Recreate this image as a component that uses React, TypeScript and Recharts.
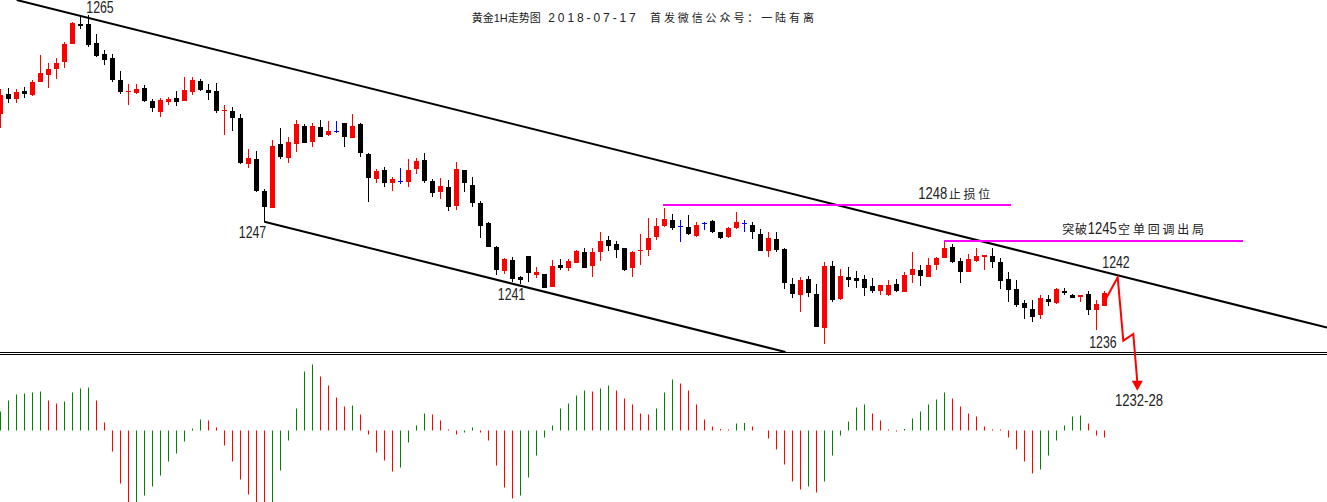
import React from "react";
import { ComposedChart, Bar, Line, Scatter, XAxis, YAxis } from "recharts";

// ---------- data ----------
const opens = [
  1258.6, 1260.6, 1260.1, 1260.9, 1260.5, 1261.8, 1262.5, 1263.1, 1263.8, 1265.6,
  1267.6, 1267.6, 1265.7, 1264.6, 1264.2, 1262.0, 1260.8, 1260.7, 1261.2, 1259.9,
  1258.8, 1259.8, 1260.2, 1259.9, 1260.8, 1261.9, 1261.0, 1260.9, 1258.9, 1258.9,
  1258.2, 1253.6, 1254.1, 1250.9, 1249.2, 1255.6, 1254.2, 1255.6, 1257.4, 1255.8,
  1257.3, 1256.5, 1256.9, 1257.7, 1256.2, 1257.6, 1254.6, 1252.1, 1253.0, 1251.7,
  1251.9, 1251.8, 1253.1, 1254.0, 1251.9, 1250.8, 1251.3, 1249.4, 1253.0, 1251.5,
  1249.7, 1247.7, 1245.3, 1242.9, 1244.0, 1242.3, 1244.4, 1242.5, 1242.6, 1241.3,
  1243.5, 1243.2, 1243.7, 1244.8, 1243.4, 1244.8, 1246.0, 1245.6, 1245.2, 1243.2,
  1244.9, 1245.0, 1246.3, 1247.4, 1248.0, 1247.4, 1247.3, 1246.4, 1247.7, 1247.9,
  1246.8, 1246.3, 1247.2, 1247.7, 1247.5, 1246.6, 1244.9, 1246.1, 1245.1, 1241.6,
  1240.5, 1242.1, 1240.6, 1237.2, 1243.4, 1240.1, 1242.3, 1242.2, 1242.1, 1241.4,
  1240.9, 1240.5, 1241.6, 1240.8, 1242.5, 1243.0, 1242.3, 1243.5, 1244.2, 1245.3,
  1243.9, 1242.8, 1243.9, 1244.3, 1244.4, 1243.8, 1242.1, 1241.1, 1239.7, 1239.1,
  1238.5, 1240.1, 1239.7, 1240.9, 1240.5, 1240.3, 1240.6, 1239.0, 1239.4,
];
const closes = [
  1260.5, 1260.1, 1260.8, 1260.6, 1261.8, 1262.7, 1263.1, 1263.7, 1265.6, 1267.7,
  1267.4, 1265.5, 1264.4, 1264.0, 1262.0, 1260.8, 1260.9, 1261.1, 1259.9, 1259.2,
  1260.0, 1260.1, 1259.8, 1261.0, 1262.0, 1261.0, 1260.7, 1258.9, 1259.0, 1258.2,
  1253.7, 1254.2, 1250.9, 1249.3, 1255.4, 1254.3, 1255.8, 1257.6, 1255.7, 1257.4,
  1256.3, 1256.9, 1256.9, 1256.3, 1257.4, 1254.7, 1252.2, 1252.9, 1251.7, 1252.1,
  1251.9, 1253.0, 1253.9, 1251.9, 1250.7, 1251.4, 1249.3, 1253.1, 1251.7, 1249.7,
  1247.4, 1245.3, 1243.0, 1244.1, 1242.1, 1242.0, 1242.7, 1242.8, 1241.2, 1243.4,
  1243.2, 1243.9, 1244.9, 1243.2, 1244.8, 1245.9, 1245.4, 1245.0, 1243.0, 1244.8,
  1245.0, 1246.2, 1247.4, 1248.1, 1247.2, 1247.4, 1246.6, 1247.5, 1247.7, 1246.8,
  1246.2, 1247.2, 1247.8, 1247.7, 1246.8, 1244.9, 1246.2, 1245.0, 1241.7, 1240.6,
  1242.0, 1240.7, 1237.3, 1243.4, 1240.0, 1242.4, 1242.0, 1241.9, 1241.2, 1240.9,
  1241.5, 1241.5, 1240.9, 1242.5, 1243.1, 1242.4, 1243.5, 1244.2, 1245.2, 1243.8,
  1242.8, 1244.1, 1244.4, 1244.5, 1243.8, 1241.9, 1241.0, 1239.5, 1239.2, 1238.3,
  1240.2, 1239.8, 1241.1, 1240.7, 1240.2, 1240.5, 1239.0, 1239.6, 1240.7,
];
const highs = [
  1261.1, 1261.2, 1261.1, 1261.3, 1262.0, 1264.5, 1263.7, 1264.2, 1265.8, 1267.8,
  1268.5, 1268.5, 1266.6, 1265.0, 1264.6, 1262.9, 1261.6, 1261.6, 1261.5, 1260.1,
  1260.2, 1260.3, 1260.9, 1262.3, 1262.3, 1262.1, 1261.6, 1261.7, 1259.5, 1259.3,
  1258.6, 1255.1, 1254.9, 1251.1, 1256.0, 1257.2, 1256.3, 1258.0, 1257.6, 1257.7,
  1258.0, 1257.9, 1257.9, 1257.7, 1258.6, 1257.7, 1254.7, 1253.1, 1253.3, 1252.3,
  1253.2, 1254.1, 1254.2, 1254.7, 1252.1, 1252.2, 1252.0, 1253.8, 1253.0, 1252.3,
  1249.9, 1247.8, 1245.4, 1244.2, 1244.3, 1242.4, 1244.4, 1243.3, 1242.6, 1244.0,
  1244.1, 1244.1, 1245.0, 1245.2, 1245.2, 1246.8, 1246.4, 1245.9, 1245.2, 1244.9,
  1246.6, 1248.2, 1248.2, 1249.2, 1248.6, 1248.0, 1248.5, 1247.8, 1247.8, 1248.0,
  1246.8, 1247.3, 1248.8, 1248.0, 1247.8, 1247.1, 1246.8, 1246.8, 1245.2, 1242.2,
  1242.3, 1242.4, 1241.6, 1243.8, 1243.9, 1243.1, 1243.3, 1242.9, 1242.5, 1242.2,
  1241.5, 1242.0, 1242.1, 1242.8, 1244.8, 1243.5, 1244.2, 1244.3, 1245.9, 1245.6,
  1244.2, 1244.6, 1245.2, 1244.5, 1245.2, 1244.2, 1242.8, 1242.0, 1240.0, 1240.0,
  1240.5, 1240.5, 1241.2, 1241.2, 1240.6, 1240.5, 1240.9, 1240.0, 1240.9,
];
const lows = [
  1257.2, 1259.7, 1259.7, 1260.2, 1260.4, 1261.8, 1261.2, 1262.1, 1263.2, 1265.6,
  1267.1, 1265.3, 1264.3, 1263.5, 1261.8, 1260.6, 1259.5, 1260.6, 1259.8, 1258.8,
  1258.3, 1259.5, 1259.4, 1259.9, 1260.5, 1260.9, 1260.0, 1258.7, 1256.5, 1256.9,
  1253.6, 1253.2, 1250.8, 1247.8, 1249.2, 1254.1, 1253.7, 1254.8, 1255.7, 1255.3,
  1256.3, 1256.4, 1256.7, 1255.3, 1256.2, 1254.3, 1249.8, 1251.7, 1251.3, 1250.9,
  1251.6, 1251.3, 1252.6, 1251.7, 1250.3, 1250.1, 1248.9, 1249.0, 1250.8, 1249.3,
  1246.2, 1245.3, 1242.5, 1242.6, 1241.8, 1241.6, 1241.8, 1242.2, 1241.2, 1241.3,
  1243.0, 1242.9, 1243.7, 1243.2, 1242.3, 1243.9, 1244.9, 1244.2, 1242.9, 1242.3,
  1243.5, 1244.4, 1246.0, 1247.3, 1247.0, 1245.8, 1246.5, 1246.3, 1247.0, 1246.7,
  1246.1, 1246.2, 1247.1, 1246.8, 1246.1, 1244.9, 1244.3, 1244.8, 1241.1, 1240.2,
  1238.8, 1240.3, 1237.3, 1235.6, 1239.8, 1240.0, 1241.3, 1241.2, 1240.4, 1240.7,
  1240.5, 1240.4, 1240.8, 1240.8, 1241.7, 1241.4, 1242.3, 1243.0, 1244.2, 1243.7,
  1241.7, 1242.8, 1243.8, 1243.0, 1243.2, 1241.1, 1239.8, 1239.3, 1238.1, 1237.8,
  1238.1, 1239.4, 1239.6, 1240.5, 1240.2, 1239.8, 1238.5, 1237.0, 1239.4,
];
const macd = [
  0.19, 0.30, 0.36, 0.37, 0.38, 0.39, 0.30, 0.27, 0.29, 0.38,
  0.42, 0.43, 0.30, 0.08, -0.21, -0.53, -0.74, -0.73, -0.65, -0.56,
  -0.45, -0.31, -0.23, -0.11, 0.02, 0.11, 0.10, 0.03, -0.15, -0.31,
  -0.49, -0.64, -0.72, -0.75, -0.73, -0.40, -0.10, 0.22, 0.59, 0.66,
  0.54, 0.45, 0.33, 0.24, 0.25, 0.16, -0.04, -0.22, -0.30, -0.41,
  -0.37, -0.12, 0.05, 0.17, 0.16, 0.10, 0.01, -0.04, -0.02, 0.03,
  -0.02, -0.10, -0.35, -0.57, -0.68, -0.65, -0.47, -0.25, -0.07, 0.05,
  0.22, 0.27, 0.35, 0.40, 0.39, 0.42, 0.45, 0.40, 0.32, 0.26,
  0.17, 0.16, 0.22, 0.38, 0.51, 0.47, 0.40, 0.26, 0.11, 0.04,
  0.015, 0.01, 0.07, 0.075, 0.04, 0, -0.08, -0.19, -0.34, -0.51,
  -0.59, -0.56, -0.62, -0.51, -0.25, -0.05, 0.09, 0.23, 0.26, 0.17,
  0.10, 0.01, -0.01, 0.015, 0.12, 0.19, 0.26, 0.31, 0.38, 0.32,
  0.24, 0.17, 0.14, 0.04, 0.012, 0.01, -0.07, -0.19, -0.31, -0.43,
  -0.39, -0.25, -0.10, 0.05, 0.14, 0.15, 0.07, -0.05, -0.07,
];

// annotation geometry in data units (x = bar index, y = price)
const upperTrend = [{ i: 2.025, p: 1270.0 }, { i: 165.81, p: 1237.24 }];
const lowerTrend = [{ i: 32.98, p: 1247.83 }, { i: 98.125, p: 1234.8 }];
const stopLine = [{ i: 82.81, p: 1249.5 }, { i: 126.31, p: 1249.5 }];
const exitLine = [{ i: 117.94, p: 1245.9 }, { i: 155.31, p: 1245.9 }];
const arrowPath = [
  { i: 137.975, p: 1239.83 },
  { i: 139.65, p: 1242.27 },
  { i: 140.35, p: 1235.93 },
  { i: 141.6, p: 1236.6 },
  { i: 142.1, p: 1231.8 },
];
const arrowTip = [{ i: 142.1, p: 1230.93 }];
const priceLabels = [
  { i: 12.44, p: 1269.28, text: "1265" },
  { i: 31.5, p: 1246.75, text: "1247" },
  { i: 63.875, p: 1240.6, text: "1241" },
  { i: 137.81, p: 1235.75, text: "1236" },
  { i: 139.44, p: 1243.75, text: "1242" },
  { i: 142.31, p: 1229.95, text: "1232-28" },
];
const noteLabels = [
  { i: 114.725, p: 1250.7, parts: ["1248", "止损位"] },
  { i: 132.725, p: 1247.17, parts: ["突破", "1245", "空单回调出局"] },
];
const titleParts = ["黄金", "1H", "走势图", "2018-07-17", "首发微信公众号：一陆有离"];

// ---------- chart ----------
const W = 1327;
const H = 502;
const X0 = -0.0625;
const X1 = X0 + W / 8;
const PRICE_DOMAIN: [number, number] = [1219.8, 1270];
const MACD_DOMAIN: [number, number] = [-0.715, 4.305];
const SEP1 = [{ i: X0, p: 1234.75 }, { i: X1, p: 1234.75 }];
const SEP2 = [{ i: X0, p: 1234.55 }, { i: X1, p: 1234.55 }];

const RED = "#ff0000";
const BLACK = "#000000";
const BLUE = "#0000ff";
const GREEN = "#008000";

const table = opens.map((o, i) => ({
  i,
  o,
  c: closes[i],
  h: highs[i],
  l: lows[i],
  m: macd[i],
  hc: i === 0 || macd[i] > macd[i - 1] ? GREEN : RED,
}));

const snap = (v: number) => Math.round(v - 0.5) + 0.5;

const CandleShape = (props: any) => {
  const { x, y, width, height, payload } = props;
  if (x == null || y == null || !payload) return null;
  const cx = snap(x + width / 2);
  const top = Math.min(y, y + height);
  const hh = Math.abs(height);
  const k = hh / (payload.h - payload.l);
  const yOf = (v: number) => Math.round(top + (payload.h - v) * k);
  const color = payload.c > payload.o ? RED : payload.c < payload.o ? BLACK : BLUE;
  const wt = yOf(payload.h);
  const wb = yOf(payload.l);
  const bt = yOf(Math.max(payload.o, payload.c));
  const bb = yOf(Math.min(payload.o, payload.c));
  return (
    <g>
      <rect x={cx - 0.5} y={wt} width={1} height={Math.max(1, wb - wt)} fill={color} />
      <rect x={cx - 2.5} y={bt} width={5} height={Math.max(1, bb - bt)} fill={color} />
    </g>
  );
};

const HistShape = (props: any) => {
  const { x, y, width, height, payload } = props;
  if (x == null || y == null || !payload || !height) return null;
  const cx = snap(x + width / 2);
  const top = Math.min(y, y + height);
  const hh = Math.abs(height);
  return <rect x={cx - 0.5} y={top} width={1} height={hh} fill={payload.hc} />;
};

const SANS = "'Liberation Sans',Arial,sans-serif";
const CJK = "'Noto Sans CJK SC','Noto Sans CJK JP',sans-serif";
const DIGIT_W = 7.23; // Liberation Sans digit advance at 13px
const DIGIT_STRETCH = 1.23; // tall, narrow digits as in the reference

const PriceLabel = (props: any) => {
  const { cx, cy, payload } = props;
  if (cx == null || !payload) return null;
  return (
    <text
      x={cx}
      y={cy + 5.7}
      textAnchor="middle"
      fontFamily={SANS}
      fontSize={16}
      fill="#222"
      textLength={payload.text.length * 6.85}
      lengthAdjust="spacingAndGlyphs"
    >
      {payload.text}
    </text>
  );
};

const NoteLabel = (props: any) => {
  const { cx, cy, payload } = props;
  if (cx == null || !payload) return null;
  const parts: string[] = payload.parts;
  const base = cy + 5.8;
  let x = cx;
  const items = parts.map((s, k) => {
    const x0 = x;
    if (/^\d+$/.test(s)) {
      x += s.length * DIGIT_W + 1.5;
      return (
        <text
          key={k}
          x={0}
          y={0}
          transform={`translate(${x0},${base}) scale(1,${DIGIT_STRETCH})`}
          fill="#222"
          fontFamily={SANS}
          fontSize={13}
        >
          {s}
        </text>
      );
    }
    const ls = k === parts.length - 1 ? 2.8 : 0.7;
    x += s.length * (12 + ls);
    return (
      <text key={k} x={x0} y={base} fill="#222" fontFamily={CJK} fontSize={12} letterSpacing={ls}>
        {s}
      </text>
    );
  });
  return <g>{items}</g>;
};

const ArrowHead = (props: any) => {
  const { cx, cy } = props;
  if (cx == null) return null;
  return <path d={`M${cx},${cy} L${cx - 5.5},${cy - 10} L${cx + 5.5},${cy - 10} Z`} fill={RED} />;
};

const lineProps = {
  dataKey: "p",
  xAxisId: 0,
  yAxisId: "p",
  dot: false,
  activeDot: false,
  isAnimationActive: false,
  type: "linear" as const,
  legendType: "none" as const,
};

export default function App() {
  return (
    <div style={{ position: "absolute", left: 0, top: 0, width: W, height: H, background: "#fff" }}>
      <ComposedChart width={W} height={H} data={table} margin={{ top: 0, right: 0, bottom: 0, left: 0 }}>
        <XAxis xAxisId={0} type="number" dataKey="i" domain={[X0, X1]} hide allowDataOverflow />
        <XAxis xAxisId="h" type="number" dataKey="i" domain={[X0, X1]} hide allowDataOverflow />
        <YAxis yAxisId="p" type="number" domain={PRICE_DOMAIN} hide allowDataOverflow />
        <YAxis yAxisId="m" type="number" domain={MACD_DOMAIN} hide allowDataOverflow />

        <Bar xAxisId="h" yAxisId="m" dataKey="m" barSize={1} shape={HistShape} isAnimationActive={false} />
        <Bar
          xAxisId={0}
          yAxisId="p"
          dataKey={(d: any) => [d.l, d.h]}
          barSize={5}
          shape={CandleShape}
          isAnimationActive={false}
        />

        <Line {...lineProps} data={SEP1} stroke={BLACK} strokeWidth={1} />
        <Line {...lineProps} data={SEP2} stroke={BLACK} strokeWidth={1} />
        <Line {...lineProps} data={upperTrend} stroke={BLACK} strokeWidth={2} />
        <Line {...lineProps} data={lowerTrend} stroke={BLACK} strokeWidth={2} />
        <Line {...lineProps} data={stopLine} stroke="#ff00ff" strokeWidth={2} />
        <Line {...lineProps} data={exitLine} stroke="#ff00ff" strokeWidth={2} />
        <Line {...lineProps} data={arrowPath} stroke={RED} strokeWidth={2} />

        <Scatter xAxisId={0} yAxisId="p" data={arrowTip} dataKey="p" shape={ArrowHead} isAnimationActive={false} />
        <Scatter xAxisId={0} yAxisId="p" data={priceLabels} dataKey="p" shape={PriceLabel} isAnimationActive={false} />
        <Scatter xAxisId={0} yAxisId="p" data={noteLabels} dataKey="p" shape={NoteLabel} isAnimationActive={false} />
      </ComposedChart>
      <svg width={W} height={30} style={{ position: "absolute", left: 0, top: 0, pointerEvents: "none" }}>
        <text x={471.7} y={22} fill="#222">
          <tspan fontFamily={CJK} fontSize={11}>{titleParts[0]}</tspan>
          <tspan fontFamily={SANS} fontSize={11}>{titleParts[1]}</tspan>
          <tspan fontFamily={CJK} fontSize={11}>{titleParts[2]}</tspan>
          <tspan x={548.3} fontFamily={SANS} fontSize={12} letterSpacing={2.9}>
            {titleParts[3]}
          </tspan>
          <tspan x={650} fontFamily={CJK} fontSize={11} letterSpacing={2.9}>
            {titleParts[4]}
          </tspan>
        </text>
      </svg>
    </div>
  );
}
